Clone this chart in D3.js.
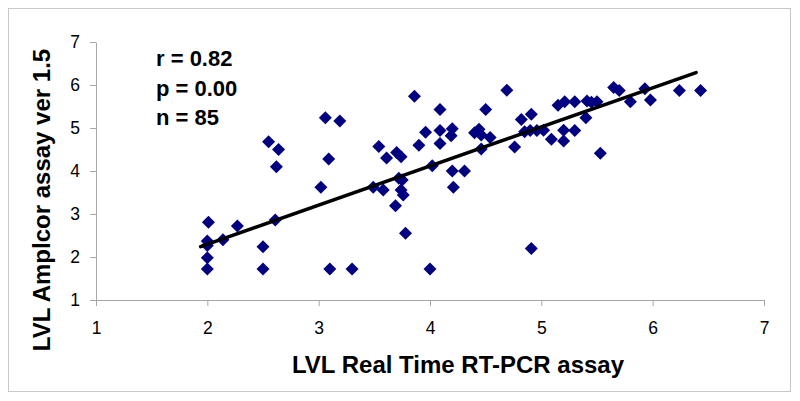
<!DOCTYPE html>
<html>
<head>
<meta charset="utf-8">
<script src="https://cdn.jsdelivr.net/npm/d3@7"></script>
<style>
  body { margin: 0; background: #fff; }
  svg text { font-family: "Liberation Sans", Arial, sans-serif; }
</style>
</head>
<body>
<div id="chart"></div>
<script>
'use strict'

// real time RT-PCR (x) vs Amplicor (y) values
const xVals = [2.01, 2.00, 2.00, 2.14, 2.27, 2.61, 2.00, 2.00, 2.50, 2.50,
               3.10, 3.30, 4.00, 3.78, 3.69, 3.76, 4.91, 2.55, 2.64, 2.62,
               3.06, 3.09, 3.02, 3.19, 3.86, 4.09, 3.96, 4.09, 4.20, 4.19,
               3.90, 4.09, 3.54, 3.70, 3.74, 3.61, 4.02, 4.20, 4.21, 3.72,
               3.49, 3.58, 3.74, 4.69, 4.50, 4.40, 4.44, 4.46, 4.54, 4.46,
               4.76, 4.82, 4.91, 4.85, 4.90, 4.96, 5.02, 5.09, 5.20, 5.20,
               5.30, 5.15, 5.21, 5.30, 5.41, 5.40, 4.31, 5.50, 5.65, 5.70,
               5.80, 5.93, 5.98, 6.24, 6.43, 5.53, 5.45, 3.75]
const yVals = [2.81, 2.37, 2.27, 2.40, 2.72, 2.86, 1.98, 1.72, 2.24, 1.72,
               1.72, 1.72, 1.72, 2.55, 3.19, 3.44, 2.20, 4.68, 4.50, 4.10,
               5.24, 4.28, 3.62, 5.16, 5.74, 5.43, 4.90, 4.94, 4.98, 4.82,
               4.60, 4.64, 4.57, 4.43, 4.33, 4.30, 4.12, 4.00, 3.62, 3.83,
               3.62, 3.56, 3.56, 5.88, 5.43, 4.89, 4.97, 4.84, 4.78, 4.51,
               4.56, 5.20, 5.32, 4.91, 4.94, 4.94, 4.95, 4.74, 4.70, 4.95,
               4.94, 5.53, 5.61, 5.61, 5.63, 5.24, 4.00, 5.61, 5.94, 5.87,
               5.61, 5.91, 5.65, 5.87, 5.87, 4.41, 5.60, 3.79]

// trend line end points
const trendX = [1.94, 6.39]
const trendY = [2.24, 6.29]

const xTicks = [1, 2, 3, 4, 5, 6, 7]
const yTicks = [1, 2, 3, 4, 5, 6, 7]
const statsText = ['r = 0.82', 'p = 0.00', 'n = 85']

const points = xVals.map((v, i) => ({x: v, y: yVals[i]}))

const svgWidth = 800, svgHeight = 401
const margin = {left: 96, right: 36, top: 42, bottom: 101}

const svg = d3.select('#chart').append('svg')
    .attr('width', svgWidth)
    .attr('height', svgHeight)

// outer frame
svg.append('rect')
    .attr('x', 8.5).attr('y', 8.5)
    .attr('width', 782).attr('height', 383)
    .attr('fill', 'none')
    .attr('stroke', '#c8c8c8')
    .attr('stroke-width', 1)

const x = d3.scaleLinear().domain([1, 7]).range([margin.left, svgWidth - margin.right])
const y = d3.scaleLinear().domain([1, 7]).range([svgHeight - margin.bottom, margin.top])

// axes
const xAxis = svg.append('g')
    .attr('transform', `translate(0,${y(1)})`)
    .call(d3.axisBottom(x).tickValues(xTicks).tickSize(6).tickSizeOuter(0).tickPadding(16).tickFormat(d3.format('d')))
const yAxis = svg.append('g')
    .attr('transform', `translate(${x(1)},0)`)
    .call(d3.axisLeft(y).tickValues(yTicks).tickSize(6).tickSizeOuter(0).tickPadding(10).tickFormat(d3.format('d')))

;[xAxis, yAxis].forEach(a => {
    a.selectAll('path, line').attr('stroke', '#a6a6a6')
    a.selectAll('text').attr('fill', '#000').style('font-size', '17.5px')
})

// diamonds
svg.append('g').selectAll('path')
    .data(points)
    .join('path')
    .attr('d', 'M0,-6.5L6.5,0L0,6.5L-6.5,0Z')
    .attr('transform', d => `translate(${x(d.x)},${y(d.y)})`)
    .attr('fill', '#000080')

// trend line
svg.append('path')
    .datum(trendX.map((v, i) => [v, trendY[i]]))
    .attr('d', d3.line().x(d => x(d[0])).y(d => y(d[1])))
    .attr('fill', 'none')
    .attr('stroke', '#000')
    .attr('stroke-width', 3.5)
    .attr('stroke-linecap', 'round')

// stats
svg.append('g').selectAll('text')
    .data(statsText)
    .join('text')
    .attr('x', 156)
    .attr('y', (d, i) => 66 + i * 29.5)
    .style('font-size', '22px')
    .style('font-weight', 'bold')
    .text(d => d)

// axis titles
svg.append('text')
    .attr('x', 458).attr('y', 373)
    .attr('text-anchor', 'middle')
    .style('font-size', '24px')
    .style('font-weight', 'bold')
    .text('LVL Real Time RT-PCR assay')

svg.append('text')
    .attr('transform', 'translate(50,200) rotate(-90)')
    .attr('text-anchor', 'middle')
    .style('font-size', '24px')
    .style('font-weight', 'bold')
    .text('LVL Amplcor assay ver 1.5')
</script>
</body>
</html>
